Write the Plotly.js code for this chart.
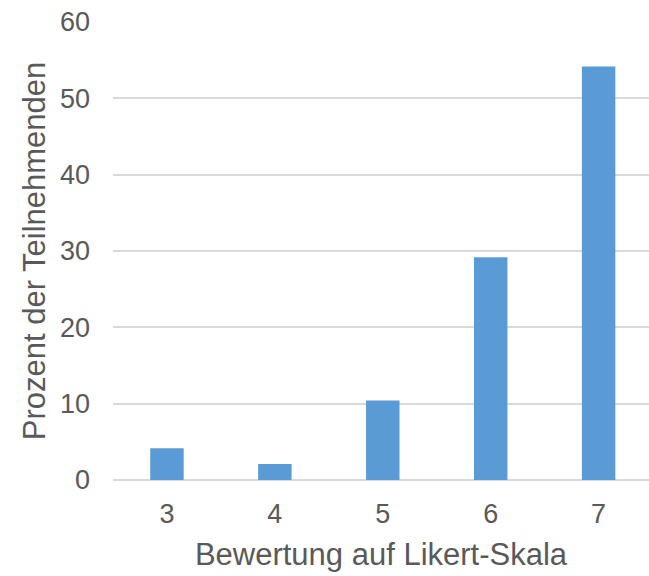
<!DOCTYPE html>
<html>
<head>
<meta charset="utf-8">
<script src="https://cdn.plot.ly/plotly-3.0.1.min.js"></script>
<style>
html,body{margin:0;padding:0;background:#fff;overflow:hidden;}
#chart{width:649px;height:576px;}
</style>
</head>
<body>
<div id="chart"></div>
<script>
const categories = ["3", "4", "5", "6", "7"];
const percentValues = [4.17, 2.08, 10.42, 29.17, 54.17];
const yTickValues = [0, 10, 20, 30, 40, 50, 60];
const xTitle = "Bewertung auf Likert-Skala";
const yTitle = "Prozent der Teilnehmenden";

const textColor = "#595959";
const fontFamily = "'Liberation Sans', Arial, sans-serif";

const trace = {
  type: "bar",
  x: categories,
  y: percentValues,
  marker: {color: "#5B9BD5", line: {width: 0}},
  hoverinfo: "x+y"
};

const layout = {
  width: 649,
  height: 576,
  margin: {l: 113, r: 0, t: 22, b: 96, pad: 0},
  paper_bgcolor: "#ffffff",
  plot_bgcolor: "#ffffff",
  showlegend: false,
  bargap: 0.69,
  font: {family: fontFamily, size: 28, color: textColor},
  xaxis: {
    type: "category",
    range: [-0.5, 4.467],
    showgrid: false,
    zeroline: false,
    showline: false,
    ticks: "",
    ticklabelstandoff: 15,
    tickfont: {family: fontFamily, size: 27, color: textColor},
    title: {text: xTitle, font: {family: fontFamily, size: 31, color: textColor}, standoff: 15},
    automargin: false
  },
  yaxis: {
    range: [0, 60],
    tickvals: yTickValues,
    showgrid: true,
    gridcolor: "#D9D9D9",
    gridwidth: 2,
    zeroline: true,
    zerolinecolor: "#D9D9D9",
    zerolinewidth: 2,
    showline: false,
    ticks: "",
    ticklabelstandoff: 22,
    tickfont: {family: fontFamily, size: 27, color: textColor},
    title: {text: yTitle, font: {family: fontFamily, size: 31, color: textColor}, standoff: 5},
    automargin: false
  }
};

Plotly.newPlot("chart", [trace], layout, {displayModeBar: false, staticPlot: true});
</script>
</body>
</html>
